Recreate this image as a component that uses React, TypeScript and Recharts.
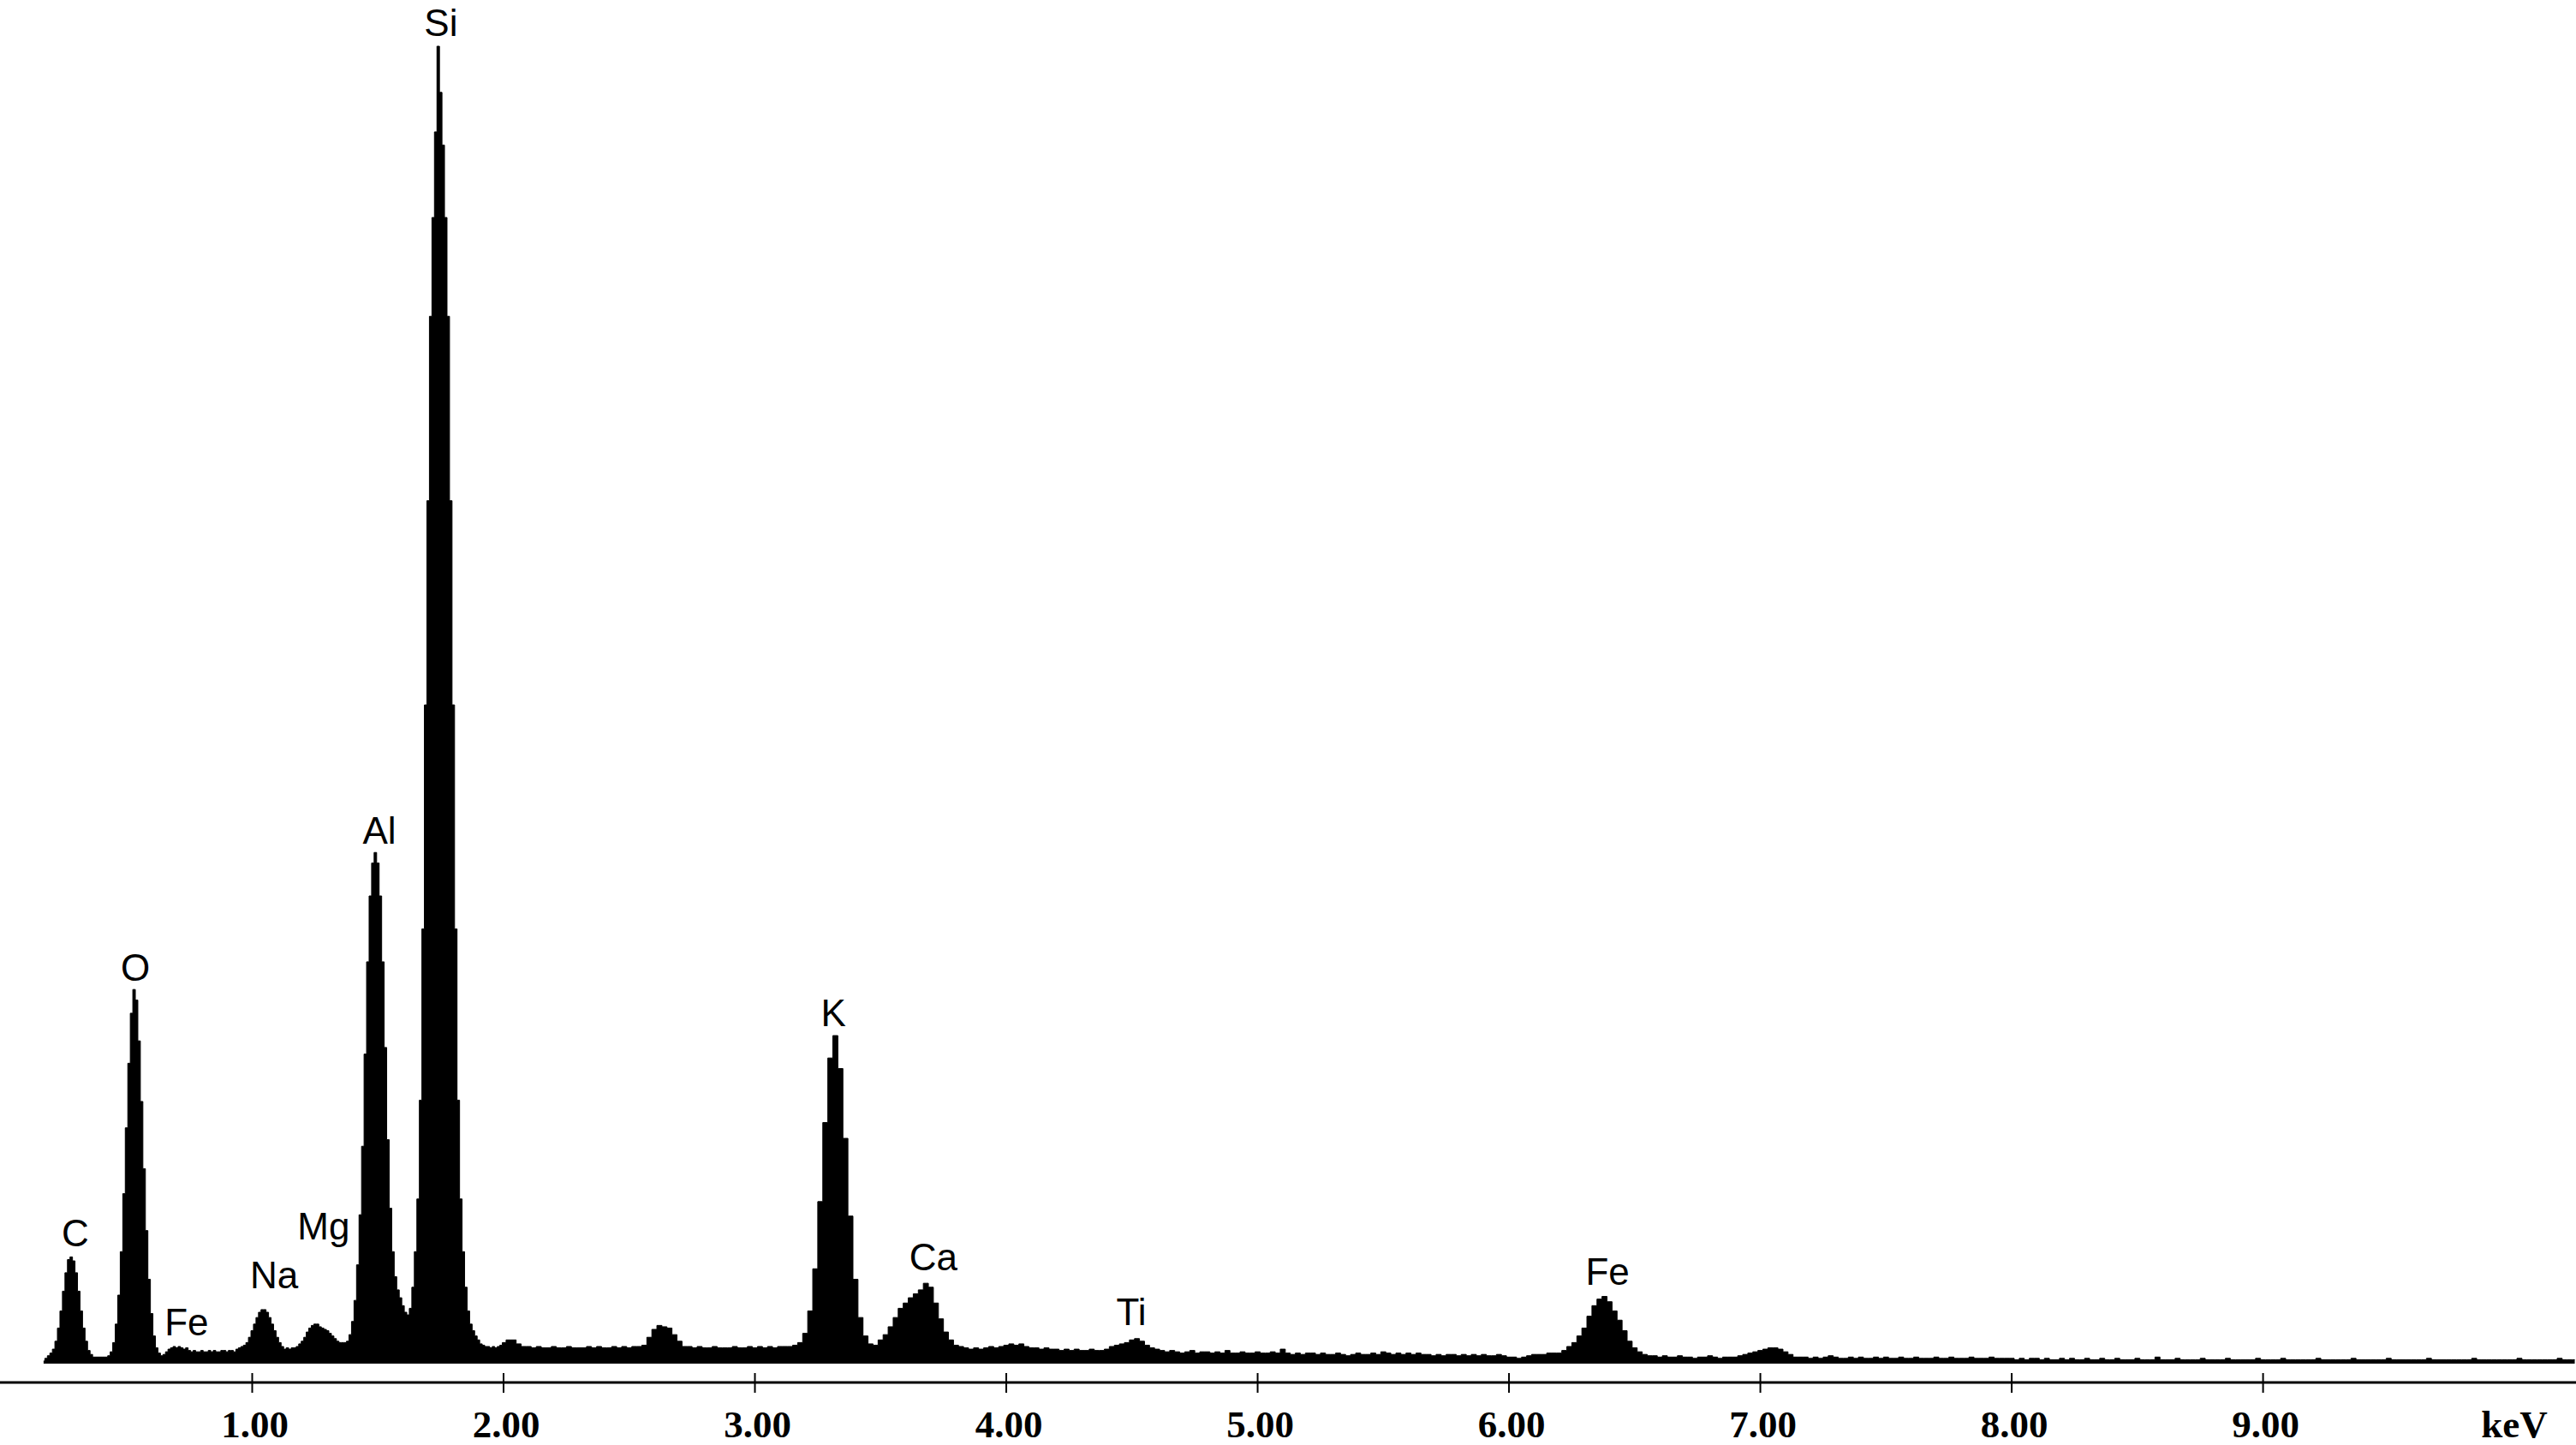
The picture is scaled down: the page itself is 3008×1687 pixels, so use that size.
import React from 'react';
import { ComposedChart, Area, Scatter, XAxis, YAxis } from 'recharts';

// EDS spectrum, channel width 0.01 keV from 0.17 to 1.99 keV
const lowStart = 0.17;
const lowStep = 0.01;
const lowCounts = [
  // 0.17 - 0.40 (C)
  2, 4, 6, 8, 11, 17, 27, 40, 55, 69, 79, 81, 78, 69, 55, 40, 27, 17, 10, 7, 5, 5, 5, 5,
  // 0.41 - 0.64 (O)
  5, 5, 6, 9, 16, 30, 52, 85, 129, 179, 228, 266, 284, 276, 245, 199, 148, 101, 64, 38, 21, 12, 8, 6,
  // 0.65 - 0.96 (Fe L)
  7, 9, 11, 12, 13, 12, 13, 12, 11, 12, 10, 9, 10, 9, 9, 10, 9, 9, 10, 9, 10, 9, 9, 10, 10, 9, 10, 10, 9, 11, 12, 13,
  // 0.97 - 1.13 (Na)
  14, 16, 20, 25, 30, 35, 39, 41, 41, 39, 35, 30, 25, 20, 16, 13, 11,
  // 1.14 - 1.37 (Mg)
  12, 11, 12, 12, 13, 15, 17, 20, 24, 27, 29, 30, 30, 28, 27, 26, 25, 23, 21, 19, 17, 16, 16, 16,
  // 1.38 - 1.62 (Al)
  17, 22, 32, 48, 75, 113, 165, 235, 305, 355, 380, 388, 380, 355, 305, 240, 170, 118, 85, 66, 56, 50, 44, 39, 37,
  // 1.63 - 1.99 (Si)
  42, 58, 85, 125, 200, 330, 500, 655, 795, 870, 935, 1000, 965, 925, 870, 795, 655, 500, 330, 200, 125, 85, 58, 40,
  30, 25, 21, 18, 15, 14, 13, 13, 12, 13, 12, 13, 14,
];

// channel width 0.02 keV from 2.00 to 10.24 keV
const highStart = 2.0;
const highStep = 0.02;
const highCounts = [
  // 2.00 - 2.54
  16, 18, 18, 15, 13, 13, 12, 13, 12, 12, 13, 12, 12, 13, 12, 12, 12, 13, 12, 13, 12, 12, 13, 12, 13, 12, 13, 13,
  // 2.56 - 2.72
  14, 20, 26, 29, 28, 27, 22, 17, 13,
  // 2.74 - 3.10
  13, 12, 13, 12, 12, 13, 12, 12, 12, 13, 12, 12, 13, 12, 13, 12, 13, 12, 13,
  // 3.12 - 3.46 (K)
  13, 13, 14, 16, 23, 40, 72, 123, 183, 232, 249, 224, 171, 112, 64, 35, 21, 15,
  // 3.48 - 3.82 (Ca)
  14, 18, 22, 28, 35, 42, 46, 50, 53, 56, 61, 58, 46, 34, 24, 18, 14, 13,
  // 3.84 - 4.36
  12, 11, 12, 11, 12, 13, 12, 13, 14, 15, 14, 15, 13, 12, 12, 11, 12, 11, 11, 10, 11, 10, 11, 10, 10, 11, 10,
  // 4.38 - 4.60 (Ti)
  10, 11, 13, 14, 15, 16, 18, 19, 17, 14, 12, 11,
  // 4.62 - 6.18
  10, 9, 10, 9, 8, 9, 10, 8, 9, 9,
  8, 9, 8, 10, 8, 8, 9, 8, 8, 9,
  8, 8, 9, 8, 11, 8, 7, 8, 7, 8,
  8, 7, 8, 7, 7, 8, 7, 6, 7, 8,
  7, 7, 8, 7, 9, 8, 7, 8, 7, 8,
  7, 8, 7, 7, 6, 7, 6, 7, 7, 6,
  7, 6, 7, 6, 7, 6, 6, 7, 6, 5,
  5, 4, 5, 6, 7, 7, 7, 8, 8,
  // 6.20 - 6.54 (Fe K)
  8, 10, 13, 16, 21, 27, 36, 44, 49, 51, 47, 40, 33, 25, 17, 12, 9, 7,
  // 6.56 - 6.90
  6, 6, 5, 6, 5, 5, 6, 5, 5, 4, 5, 5, 6, 5, 4, 5, 5, 5,
  // 6.92 - 7.14
  6, 7, 8, 9, 10, 11, 12, 12, 11, 9, 7, 5,
  // 7.16 - 8.00
  5, 5, 4, 5, 4, 5, 6, 5, 4, 4,
  5, 4, 5, 4, 4, 5, 4, 5, 4, 4,
  5, 4, 4, 5, 4, 4, 4, 5, 4, 4,
  5, 4, 4, 4, 5, 4, 4, 4, 5, 4,
  4, 4, 4,
  // 8.02 - 9.00
  3, 4, 3, 4, 4, 3, 4, 3, 3, 4,
  3, 4, 3, 3, 4, 3, 3, 4, 3, 3,
  4, 3, 3, 3, 4, 3, 3, 3, 5, 3,
  3, 3, 4, 3, 3, 3, 3, 4, 3, 3,
  3, 3, 4, 3, 3, 3, 3, 3, 4, 3,
  // 9.02 - 10.24
  3, 3, 3, 4, 3, 3, 3, 3, 3, 3,
  4, 3, 3, 3, 3, 3, 3, 4, 3, 3,
  3, 3, 3, 3, 4, 3, 3, 3, 3, 3,
  3, 3, 4, 3, 3, 3, 3, 3, 3, 3,
  3, 4, 3, 3, 3, 3, 3, 3, 3, 3,
  4, 3, 3, 3, 3, 3, 3, 3, 4, 3,
  3, 3,
];

const tickValues = [1, 2, 3, 4, 5, 6, 7, 8, 9, 10];
const tickLabels = ['1.00', '2.00', '3.00', '4.00', '5.00', '6.00', '7.00', '8.00', '9.00', 'keV'];

const peakNames = ['C', 'O', 'Fe', 'Na', 'Mg', 'Al', 'Si', 'K', 'Ca', 'Ti', 'Fe'];
const peakEnergies = [0.296, 0.535, 0.739, 1.087, 1.284, 1.506, 1.751, 3.312, 3.71, 4.497, 6.392];
const peakLabelHeights = [89, 290.6, 21.5, 57.2, 94.3, 394.7, 1008, 256.2, 70.9, 29.3, 59.8];

const spectrum = [
  ...lowCounts.map((c, i) => ({ e: Math.round((lowStart + i * lowStep) * 1000) / 1000, c })),
  ...highCounts.map((c, i) => ({ e: Math.round((highStart + i * highStep) * 1000) / 1000, c })),
];

const peakLabels = peakNames.map((name, i) => ({ e: peakEnergies[i], c: peakLabelHeights[i], name }));

const EnergyTick = (props: any) => {
  const { x, y, payload } = props;
  const idx = tickValues.indexOf(payload.value);
  const label = tickLabels[idx];
  const textProps = {
    y: y + 64,
    textAnchor: 'middle' as const,
    fontFamily: '"Liberation Serif", "Times New Roman", serif',
    fontWeight: 'bold',
    fontSize: 45,
    fill: '#000',
  };
  if (label === 'keV') {
    return <text x={x} {...textProps}>{label}</text>;
  }
  return (
    <g>
      <line x1={x} x2={x} y1={y - 11} y2={y + 12} stroke="#000" strokeWidth={2} />
      <text x={x + 3} {...textProps}>{label}</text>
    </g>
  );
};

const PeakLabel = (props: any) => {
  const { cx, cy, payload } = props;
  return (
    <text
      x={cx}
      y={cy}
      textAnchor="middle"
      fontFamily='"Liberation Sans", Arial, sans-serif'
      fontSize={44}
      fill="#000"
    >
      {payload.name}
    </text>
  );
};

export default function App() {
  return (
    <div style={{ position: 'absolute', left: 0, top: 0, width: 3008, height: 1687, background: '#fff' }}>
      <ComposedChart
        width={3008}
        height={1687}
        data={spectrum}
        margin={{ top: 0, right: 0, bottom: 0, left: 0 }}
      >
        <XAxis
          type="number"
          dataKey="e"
          domain={[-0.0034, 10.245]}
          allowDataOverflow
          ticks={tickValues}
          interval={0}
          tickSize={0}
          tickMargin={0}
          tickLine={false}
          axisLine={{ stroke: '#000', strokeWidth: 3 }}
          tick={<EnergyTick />}
          height={73}
        />
        <YAxis hide type="number" domain={[-14.3, 1035.1]} allowDataOverflow />
        <Area
          type="step"
          dataKey="c"
          stroke="#000"
          strokeWidth={1}
          fill="#000"
          fillOpacity={1}
          baseValue={0}
          isAnimationActive={false}
          dot={false}
          activeDot={false}
        />
        <Scatter
          data={peakLabels}
          dataKey="c"
          shape={<PeakLabel />}
          isAnimationActive={false}
        />
      </ComposedChart>
    </div>
  );
}
